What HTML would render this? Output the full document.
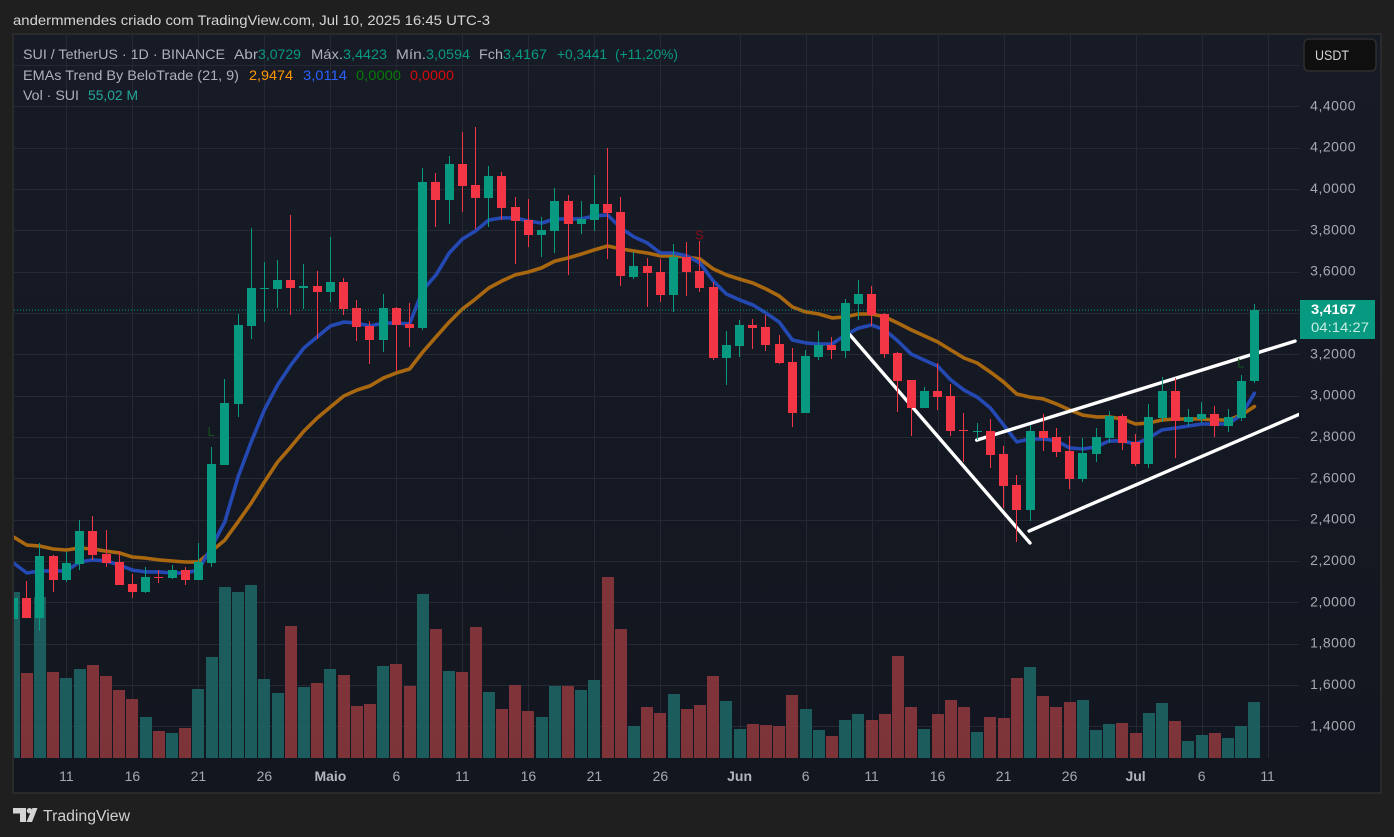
<!DOCTYPE html>
<html lang="pt">
<head>
<meta charset="utf-8">
<title>SUI / TetherUS chart</title>
<style>
html,body{margin:0;padding:0;background:#1f1f1f;width:1394px;height:837px;overflow:hidden}
svg{display:block;font-family:"Liberation Sans",Arial,sans-serif}
</style>
</head>
<body>
<svg id="chart" width="1394" height="837" viewBox="0 0 1394 837" xmlns="http://www.w3.org/2000/svg">
  <defs>
    <linearGradient id="bgGrad" x1="0" y1="0" x2="0" y2="1">
      <stop offset="0" stop-color="#171b26"/>
      <stop offset="1" stop-color="#12161f"/>
    </linearGradient>
    <clipPath id="plotClip"><rect x="14" y="35" width="1285" height="723"/></clipPath>
  </defs>
  <rect x="0" y="0" width="1394" height="837" fill="#1f1f1f"/>
  <text x="13" y="25" font-size="14" fill="#d4d4d4" textLength="477" lengthAdjust="spacingAndGlyphs">andermmendes criado com TradingView.com, Jul 10, 2025 16:45 UTC-3</text>
  <rect x="13" y="34" width="1368" height="759" fill="url(#bgGrad)" stroke="#2a2a2d" stroke-width="2"/>
  <g id="gridLayer"></g>
  <g id="plotLayer" clip-path="url(#plotClip)"></g>
  <g id="axisLayer"></g>

  <g font-size="14">
    <g>
      <text x="23" y="59" fill="#aeb1ba" textLength="202" lengthAdjust="spacingAndGlyphs">SUI / TetherUS · 1D · BINANCE</text>
      <text x="234" y="59" fill="#aeb1ba" textLength="24" lengthAdjust="spacingAndGlyphs">Abr</text>
      <text x="258" y="59" fill="#089981" textLength="43" lengthAdjust="spacingAndGlyphs">3,0729</text>
      <text x="311" y="59" fill="#aeb1ba" textLength="32" lengthAdjust="spacingAndGlyphs">Máx.</text>
      <text x="343" y="59" fill="#089981" textLength="44" lengthAdjust="spacingAndGlyphs">3,4423</text>
      <text x="396" y="59" fill="#aeb1ba" textLength="30" lengthAdjust="spacingAndGlyphs">Mín.</text>
      <text x="426" y="59" fill="#089981" textLength="44" lengthAdjust="spacingAndGlyphs">3,0594</text>
      <text x="479" y="59" fill="#aeb1ba" textLength="24" lengthAdjust="spacingAndGlyphs">Fch</text>
      <text x="503" y="59" fill="#089981" textLength="44" lengthAdjust="spacingAndGlyphs">3,4167</text>
      <text x="557" y="59" fill="#089981" textLength="50" lengthAdjust="spacingAndGlyphs">+0,3441</text>
      <text x="615" y="59" fill="#089981" textLength="63" lengthAdjust="spacingAndGlyphs">(+11,20%)</text>
    </g>
    <g>
      <text x="23" y="80" fill="#aeb1ba" textLength="216" lengthAdjust="spacingAndGlyphs">EMAs Trend By BeloTrade (21, 9)</text>
      <text x="249" y="80" fill="#ff9800" textLength="44" lengthAdjust="spacingAndGlyphs">2,9474</text>
      <text x="303" y="80" fill="#2962ff" textLength="44" lengthAdjust="spacingAndGlyphs">3,0114</text>
      <text x="356" y="80" fill="#087a08" textLength="45" lengthAdjust="spacingAndGlyphs">0,0000</text>
      <text x="410" y="80" fill="#d40d0d" textLength="44" lengthAdjust="spacingAndGlyphs">0,0000</text>
    </g>
    <g>
      <text x="23" y="100" fill="#aeb1ba" textLength="56" lengthAdjust="spacingAndGlyphs">Vol · SUI</text>
      <text x="88" y="100" fill="#26a69a" textLength="50" lengthAdjust="spacingAndGlyphs">55,02 M</text>
    </g>
  </g>

  <g>
    <rect x="1304" y="39" width="72" height="32" rx="5" fill="#0f0f0f" stroke="#2e2e2e" stroke-width="1.5"/>
    <text x="1315" y="60" font-size="14" fill="#d4d4d4" textLength="34" lengthAdjust="spacingAndGlyphs">USDT</text>
  </g>

  <g>
    <path fill="#d4d4d4" d="M13 808H26V822H20V813.5H13Z"/>
    <circle cx="29.5" cy="810.7" r="2.7" fill="#d4d4d4"/>
    <path fill="#d4d4d4" d="M32.5 808H37.5L32 822H26.5Z"/>
    <text x="43" y="821" font-size="15.5" fill="#cfcfcf" textLength="87" lengthAdjust="spacingAndGlyphs">TradingView</text>
  </g>
</svg>
<script>
const opens = [1.919,2.021,1.924,2.224,2.108,2.185,2.345,2.234,2.195,2.089,
2.050,2.123,2.118,2.156,2.108,2.190,2.664,2.960,3.337,3.516,
3.516,3.560,3.521,3.531,3.502,3.550,3.424,3.337,3.269,3.424,
3.347,3.327,4.034,3.947,4.121,4.019,3.956,4.063,3.913,3.850,
3.777,3.797,3.942,3.830,3.850,3.927,3.889,3.574,3.627,3.598,
3.487,3.671,3.603,3.526,3.182,3.240,3.342,3.332,3.250,3.163,
2.916,3.187,3.245,3.216,3.444,3.492,3.395,3.206,3.076,2.940,
3.023,2.998,2.834,2.824,2.829,2.718,2.568,2.447,2.829,2.800,
2.732,2.597,2.718,2.795,2.902,2.776,2.669,2.892,3.023,2.872,
2.887,2.911,2.853,2.892,3.0729];
const highs = [2.098,2.103,2.287,2.229,2.243,2.398,2.418,2.350,2.248,2.137,
2.171,2.156,2.181,2.171,2.287,2.752,3.081,3.395,3.811,3.647,
3.656,3.874,3.637,3.603,3.768,3.569,3.463,3.361,3.492,3.429,
3.448,4.101,4.077,4.159,4.276,4.300,4.111,4.082,3.961,3.952,
3.864,4.004,3.971,3.942,4.067,4.198,3.961,3.695,3.666,3.661,
3.734,3.743,3.748,3.550,3.313,3.366,3.371,3.390,3.293,3.230,
3.221,3.313,3.284,3.468,3.560,3.531,3.400,3.211,3.076,3.042,
3.158,3.056,2.916,2.868,2.887,2.757,2.616,2.858,2.911,2.843,
2.805,2.795,2.843,2.926,2.911,2.814,2.960,3.090,3.085,2.935,
2.969,2.950,2.935,3.100,3.4423];
const lows = [1.910,1.924,1.861,2.050,2.098,2.156,2.205,2.171,2.084,2.021,
2.045,2.094,2.113,2.084,2.108,2.171,2.664,2.897,3.274,3.357,
3.424,3.390,3.419,3.274,3.453,3.390,3.264,3.153,3.211,3.119,
3.235,3.318,3.816,3.830,3.889,3.806,3.816,3.850,3.637,3.719,
3.671,3.690,3.584,3.782,3.797,3.661,3.531,3.564,3.429,3.453,
3.405,3.482,3.502,3.173,3.052,3.187,3.226,3.216,3.153,2.848,
2.916,3.173,3.177,3.182,3.366,3.337,3.182,2.921,2.805,2.940,
2.931,2.805,2.679,2.785,2.650,2.456,2.292,2.394,2.732,2.703,
2.548,2.582,2.679,2.771,2.737,2.659,2.650,2.872,2.698,2.853,
2.868,2.800,2.824,2.877,3.0594];
const closes = [2.021,1.924,2.224,2.108,2.190,2.345,2.229,2.190,2.084,2.050,
2.123,2.118,2.156,2.108,2.195,2.669,2.965,3.342,3.521,3.521,
3.560,3.521,3.531,3.502,3.550,3.419,3.332,3.269,3.424,3.342,
3.327,4.034,3.947,4.121,4.014,3.956,4.063,3.908,3.845,3.777,
3.801,3.942,3.830,3.855,3.927,3.884,3.579,3.627,3.593,3.487,
3.671,3.598,3.521,3.182,3.245,3.342,3.327,3.245,3.158,2.916,
3.192,3.245,3.221,3.448,3.492,3.390,3.202,3.071,2.940,3.023,
2.993,2.829,2.829,2.829,2.713,2.563,2.447,2.829,2.795,2.727,
2.597,2.722,2.800,2.902,2.771,2.669,2.897,3.023,2.877,2.897,
2.911,2.853,2.897,3.071,3.4167];
const volumes = [163.1,83.5,158.2,84.5,78.6,87.4,91.4,80.6,66.8,58.0,
40.3,26.5,24.6,29.5,67.8,99.2,168.0,163.1,170.0,77.6,
63.9,129.7,69.8,73.7,87.4,81.5,51.1,53.1,90.4,92.4,
70.7,161.1,126.7,85.5,84.5,128.7,64.8,48.1,71.7,46.2,
40.3,70.7,70.7,66.8,76.6,177.8,126.7,31.4,50.1,44.2,
62.9,48.1,52.1,80.6,56.0,28.5,33.4,32.4,31.4,61.9,
48.1,27.5,21.6,37.3,43.2,37.3,43.2,100.2,50.1,28.5,
43.2,57.0,50.1,25.5,40.3,39.3,78.6,89.4,60.9,50.1,
55.0,57.0,27.5,33.4,34.4,24.6,44.2,54.0,36.4,16.7,
22.6,24.6,19.7,31.4,55.02];
const ema9 = [2.190,2.142,2.152,2.152,2.152,2.195,2.205,2.200,2.181,2.156,
2.147,2.147,2.142,2.142,2.156,2.268,2.389,2.606,2.776,2.931,
3.052,3.148,3.231,3.284,3.337,3.356,3.351,3.337,3.351,3.351,
3.347,3.511,3.584,3.690,3.758,3.797,3.850,3.860,3.860,3.845,
3.835,3.855,3.855,3.855,3.869,3.874,3.811,3.768,3.739,3.690,
3.690,3.676,3.642,3.555,3.492,3.463,3.439,3.400,3.356,3.269,
3.255,3.250,3.250,3.293,3.327,3.342,3.318,3.264,3.201,3.172,
3.143,3.076,3.027,2.993,2.940,2.858,2.776,2.790,2.790,2.781,
2.747,2.742,2.752,2.781,2.781,2.766,2.795,2.834,2.843,2.853,
2.863,2.863,2.863,2.906,3.0114];
const ema21 = [2.316,2.277,2.272,2.258,2.253,2.263,2.258,2.248,2.239,2.219,
2.214,2.205,2.200,2.195,2.195,2.248,2.301,2.389,2.480,2.582,
2.679,2.752,2.829,2.892,2.945,2.998,3.027,3.047,3.085,3.110,
3.129,3.211,3.284,3.356,3.419,3.468,3.521,3.555,3.584,3.598,
3.618,3.651,3.666,3.685,3.705,3.724,3.710,3.700,3.690,3.676,
3.676,3.671,3.661,3.613,3.584,3.564,3.545,3.516,3.482,3.429,
3.405,3.395,3.376,3.381,3.395,3.395,3.381,3.351,3.318,3.289,
3.260,3.221,3.182,3.158,3.114,3.066,3.008,2.993,2.984,2.960,
2.931,2.906,2.897,2.897,2.887,2.863,2.868,2.882,2.887,2.887,
2.887,2.882,2.882,2.906,2.9474];
const gridPrices = [4.6,4.4,4.2,4.0,3.8,3.6,3.4,3.2,3.0,2.8,2.6,2.4,2.2,2.0,1.8,1.6,1.4];
const priceLabels = [4.4,4.2,4.0,3.8,3.6,3.2,3.0,2.8,2.6,2.4,2.2,2.0,1.8,1.6,1.4];
const timeTickDays = [5,10,15,20,25,30,35,40,45,50,56,61,66,71,76,81,86,91,96];
const timeTickLabels = ['11','16','21','26','Maio','6','11','16','21','26','Jun','6','11','16','21','26','Jul','6','11'];
const trendStartDays = [64.36,73.96,77.93];
const trendStartPrices = [3.294,2.785,2.345];
const trendEndDays = [78.0,98.08,98.38];
const trendEndPrices = [2.287,3.264,2.909];
const signalDays = [16,53,94];
const signalPrices = [2.83,3.78,3.16];
const signalLabels = ['L','S','L'];
const countdown = '04:14:27';

const SVG_NS = 'http://www.w3.org/2000/svg';
const GREEN = '#089981', RED = '#f23645';
function xOf(day) { return 0.4 + 13.2 * day; }
function yOf(price) { return 106.3 + (4.4 - price) * 206.67; }
function yVol(vol) { return 758 - vol * 1.0178; }
function make(tag, attrs, parent) {
  const el = document.createElementNS(SVG_NS, tag);
  for (const k in attrs) el.setAttribute(k, attrs[k]);
  parent.appendChild(el);
  return el;
}
const gridLayer = document.getElementById('gridLayer');
const plotLayer = document.getElementById('plotLayer');
const axisLayer = document.getElementById('axisLayer');

gridPrices.forEach(function (p) {
  const y = Math.round(yOf(p)) + 0.5;
  const el = make('line', {x1: 14, x2: 1299, y1: y, y2: y, stroke: '#252933', 'stroke-width': 1}, gridLayer);
  
  
});
timeTickDays.forEach(function (d) {
  const x = Math.round(xOf(d)) + 0.5;
  const el = make('line', {x1: x, x2: x, y1: 35, y2: 758, stroke: '#252933', 'stroke-width': 1}, gridLayer);
  
  
});

volumes.forEach(function (v, i) {
  const day = i + 1;
  const up = closes[i] >= opens[i];
  const top = Math.round(yVol(v));
  const el = make('rect', {x: Math.round(xOf(day) - 6), y: top, width: 12, height: 758 - top, fill: up ? '#1e6060' : '#84363b', 'fill-opacity': 0.95, 'shape-rendering': 'crispEdges'}, plotLayer);
  
  
});

function linePoints(values) {
  return values.map(function (v, i) { return xOf(i + 1).toFixed(1) + ',' + yOf(v).toFixed(1); }).join(' ');
}
const ema21Line = make('polyline', {points: linePoints(ema21), fill: 'none', stroke: '#a96810', 'stroke-width': 3.6, 'stroke-linejoin': 'round', 'stroke-linecap': 'round'}, plotLayer);


const ema9Line = make('polyline', {points: linePoints(ema9), fill: 'none', stroke: '#2449b3', 'stroke-width': 3.6, 'stroke-linejoin': 'round', 'stroke-linecap': 'round'}, plotLayer);



const lastClose = closes[closes.length - 1];
const lastY = yOf(lastClose);
const priceLine = make('line', {x1: 14, x2: 1299, y1: lastY + 0.6, y2: lastY + 0.6, stroke: '#089981', 'stroke-width': 1, 'stroke-dasharray': '1 2'}, plotLayer);



trendStartDays.forEach(function (d, i) {
  const el = make('line', {x1: xOf(d), y1: yOf(trendStartPrices[i]), x2: xOf(trendEndDays[i]), y2: yOf(trendEndPrices[i]), stroke: '#ffffff', 'stroke-width': 3.4, 'stroke-linecap': 'round'}, plotLayer);
  
  
});

opens.forEach(function (o, i) {
  const day = i + 1;
  const c = closes[i];
  const color = c >= o ? GREEN : RED;
  const cx = xOf(day);
  const wick = make('rect', {x: Math.round(cx - 0.5), y: Math.round(yOf(highs[i])), width: 1, height: Math.max(1, Math.round(yOf(lows[i])) - Math.round(yOf(highs[i]))), fill: color, 'shape-rendering': 'crispEdges'}, plotLayer);
  
  
  const top = Math.round(yOf(Math.max(o, c)));
  const bot = Math.round(yOf(Math.min(o, c)));
  const body = make('rect', {x: Math.round(cx - 4.5), y: top, width: 9, height: Math.max(1, bot - top), fill: color, 'shape-rendering': 'crispEdges'}, plotLayer);
  
  
});

signalDays.forEach(function (d, i) {
  const label = signalLabels[i];
  const el = make('text', {x: xOf(d) - 0.5, y: yOf(signalPrices[i]) + 5, 'font-size': 13, 'text-anchor': 'middle', fill: label === 'S' ? '#8a0d18' : '#10531c'}, plotLayer);
  el.textContent = label;
  
  
});

priceLabels.forEach(function (p) {
  const el = make('text', {x: 1356, y: yOf(p) + 4, 'font-size': 14, 'text-anchor': 'end', fill: '#a6a9b2', 'letter-spacing': '0.5'}, axisLayer);
  el.textContent = p.toFixed(4).replace('.', ',');
  
  
});

timeTickDays.forEach(function (d, i) {
  const label = timeTickLabels[i];
  const isMonth = /[a-z]/.test(label);
  const el = make('text', {x: xOf(d), y: 781, 'font-size': 14, 'text-anchor': 'middle', fill: isMonth ? '#b2b5be' : '#a6a9b2', 'font-weight': isMonth ? 'bold' : 'normal'}, axisLayer);
  el.textContent = label;
  
  
});

const tagTop = Math.round(lastY) - 10;
const priceTag = make('rect', {x: 1300, y: tagTop, width: 75, height: 39, fill: '#089981'}, axisLayer);


const priceTagText = make('text', {x: 1311, y: tagTop + 14, 'font-size': 14, 'font-weight': 'bold', fill: '#ffffff', textLength: 45, lengthAdjust: 'spacingAndGlyphs'}, axisLayer);
priceTagText.textContent = lastClose.toFixed(4).replace('.', ',');


const countdownText = make('text', {x: 1311, y: tagTop + 32, 'font-size': 14, fill: '#c5ece3', textLength: 58, lengthAdjust: 'spacingAndGlyphs'}, axisLayer);
countdownText.textContent = countdown;


</script>
</body>
</html>
